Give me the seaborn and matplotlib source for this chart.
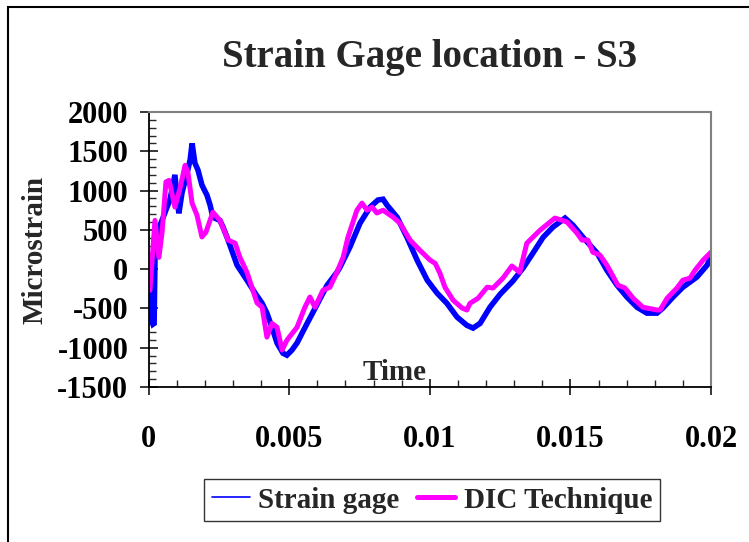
import matplotlib
matplotlib.use("Agg")
import matplotlib.pyplot as plt
import seaborn as sns
import pandas as pd
from matplotlib.patches import Rectangle
from matplotlib.ticker import MultipleLocator

# ---- data ----
gage_time = [0.0, 0.00012, 0.00016, 0.0002, 0.00023, 0.00034, 0.00048, 0.00066, 0.00076,
             0.00094, 0.00101, 0.00108, 0.00119, 0.00137, 0.00148, 0.00155, 0.00165, 0.00176,
             0.0019, 0.00208, 0.00219, 0.00229, 0.00254, 0.00265, 0.00283, 0.003, 0.00315,
             0.0035, 0.00379, 0.00404, 0.00421, 0.00439, 0.00457, 0.00478, 0.00492, 0.0051,
             0.00528, 0.00564, 0.00592, 0.00635, 0.0067, 0.00681, 0.00716, 0.00752, 0.00788,
             0.00816, 0.00834, 0.00848, 0.00884, 0.00919, 0.00955, 0.00991, 0.01026, 0.01061,
             0.01097, 0.01132, 0.01154, 0.01179, 0.01214, 0.0125, 0.01296, 0.01332, 0.01367,
             0.01403, 0.01438, 0.01481, 0.01509, 0.01545, 0.01595, 0.0163, 0.01666, 0.01701,
             0.01737, 0.01772, 0.01808, 0.01829, 0.01865, 0.019, 0.0195, 0.01986, 0.02]
gage_strain = [0, -650, -700, -690, 115, 500, 620, 790, 880,
               1200, 920, 710, 970, 1220, 1390, 1600, 1350, 1260,
               1070, 940, 815, 660, 620, 535, 370, 200, 50,
               -140, -305, -435, -560, -740, -940, -1070, -1095, -1030,
               -940, -690, -500, -205, -40, 25, 280, 585, 790,
               880, 890, 815, 660, 405, 115, -140, -305, -435,
               -610, -715, -750, -690, -485, -320, -150, 15, 205,
               405, 535, 650, 560, 405, 205, -15, -205, -355,
               -485, -560, -560, -495, -355, -230, -100, 50, 160]

dic_time = [0.00005, 0.00023, 0.00037, 0.00048, 0.00062, 0.00073, 0.00094, 0.00112, 0.0013,
            0.0014, 0.00155, 0.00172, 0.0019, 0.00204, 0.00229, 0.00254, 0.00283, 0.00308,
            0.00325, 0.0035, 0.00386, 0.00404, 0.00421, 0.00439, 0.00457, 0.00475, 0.00492,
            0.00528, 0.00556, 0.00574, 0.00592, 0.0062, 0.00645, 0.0067, 0.00692, 0.00709,
            0.00741, 0.00759, 0.00777, 0.00795, 0.00812, 0.00834, 0.0087, 0.00894, 0.0093,
            0.00965, 0.01001, 0.01019, 0.01036, 0.01054, 0.01083, 0.01115, 0.01132, 0.01143,
            0.01172, 0.01204, 0.01225, 0.0126, 0.01292, 0.0132, 0.01345, 0.01392, 0.01445,
            0.01488, 0.01523, 0.01541, 0.01562, 0.0158, 0.01605, 0.0163, 0.01669, 0.01694,
            0.01723, 0.01758, 0.01808, 0.01819, 0.01844, 0.01879, 0.019, 0.01925, 0.01943,
            0.01972, 0.02]
dic_strain = [-270, 620, 150, 460, 1110, 1130, 790, 1030, 1320,
              1235, 840, 690, 410, 470, 725, 620, 370, 330,
              150, -40, -430, -485, -865, -690, -740, -1030, -905,
              -740, -485, -355, -485, -270, -230, -40, 150, 405,
              750, 840, 750, 790, 715, 750, 660, 585, 370,
              240, 115, 75, -50, -230, -395, -495, -520, -435,
              -370, -230, -240, -115, 40, -40, 330, 495, 650,
              600, 460, 370, 370, 215, 180, 50, -205, -240,
              -370, -485, -520, -520, -370, -240, -140, -115, -15,
              115, 215]

series_names = ["Strain gage", "DIC Technique"]
title_text = "Strain Gage location - S3"
y_label = "Microstrain"
x_label = "Time"
x_ticks = [0, 0.005, 0.01, 0.015, 0.02]
x_ticklabels = ["0", "0.005", "0.01", "0.015", "0.02"]
y_ticks = [-1500, -1000, -500, 0, 500, 1000, 1500, 2000]
y_ticklabels = ["-1500", "-1000", "-500", "0", "500", "1000", "1500", "2000"]

df_gage = pd.DataFrame({"Time": gage_time, "Microstrain": gage_strain})
df_dic = pd.DataFrame({"Time": dic_time, "Microstrain": dic_strain})

sns.set_style("white")
plt.rcParams["font.family"] = ["Liberation Serif", "DejaVu Serif"]
plt.rcParams["font.weight"] = "bold"
plt.rcParams["axes.unicode_minus"] = False

W, H = 749, 542
fig = plt.figure(figsize=(W / 100, H / 100), dpi=100)
fig.patch.set_facecolor("white")

ax = fig.add_axes([148.5 / W, 1 - 387 / H, (711 - 148.5) / W, (387 - 112) / H])
ax.set_facecolor("white")

sns.lineplot(data=df_gage, x="Time", y="Microstrain", ax=ax, color="#0000FF",
             linewidth=4.0, sort=False, estimator=None, label=series_names[0],
             solid_joinstyle="miter")
sns.lineplot(data=df_dic, x="Time", y="Microstrain", ax=ax, color="#FF00FF",
             linewidth=3.6, sort=False, estimator=None, label=series_names[1],
             solid_joinstyle="round", solid_capstyle="round")

ax.set_xlim(0, 0.02)
ax.set_ylim(-1500, 2000)
ax.set_xticks(x_ticks)
ax.set_xticklabels(x_ticklabels)
ax.set_yticks(y_ticks)
ax.set_yticklabels(y_ticklabels)
ax.xaxis.set_minor_locator(MultipleLocator(0.001))
ax.yaxis.set_minor_locator(MultipleLocator(100))
ax.set_xlabel("")
ax.set_ylabel("")

for s in ["left", "bottom"]:
    ax.spines[s].set_color("black")
    ax.spines[s].set_linewidth(1.3)
for s in ["top", "right"]:
    ax.spines[s].set_color("#808080")
    ax.spines[s].set_linewidth(1.5)

ax.tick_params(axis="y", which="major", direction="inout", length=13, width=1.1,
               labelsize=22, pad=8, colors="black", left=True)
ax.tick_params(axis="y", which="minor", direction="in", length=5, width=1.0, left=True)
ax.tick_params(axis="x", which="major", direction="inout", length=11, width=1.1,
               labelsize=22, pad=22, colors="black", bottom=True)
ax.tick_params(axis="x", which="minor", direction="in", length=5, width=1.0, bottom=True)
for lab in ax.get_xticklabels() + ax.get_yticklabels():
    lab.set_fontweight("bold")

ax.legend_.remove()
handles, labels = ax.get_legend_handles_labels()
leg = fig.legend(handles, labels, loc="center", bbox_to_anchor=(432 / W, 1 - 500 / H),
                 ncol=2, frameon=True, fancybox=False, edgecolor="black",
                 prop={"size": 21, "weight": "bold"}, handlelength=1.3,
                 handletextpad=0.3, columnspacing=0.6, borderpad=0.25)
leg.get_frame().set_linewidth(1.0)
leg_lines = leg.get_lines()
leg_lines[0].set_linewidth(1.2)
leg_lines[1].set_linewidth(3.6)

fig.text(430 / W, 1 - 58 / H, title_text, ha="center", va="center",
         fontsize=28, fontweight="bold")
fig.text(35 / W, 1 - 250 / H, y_label, ha="center", va="center", rotation=90,
         fontsize=21, fontweight="bold")
fig.text(395 / W, 1 - 372 / H, x_label, ha="center", va="center",
         fontsize=21, fontweight="bold")

fig.patches.append(Rectangle((8 / W, -0.1), 1.2, 1 - 7 / H + 0.1, transform=fig.transFigure,
                             fill=False, edgecolor="black", linewidth=1.5))

fig.savefig("out.png", dpi=100)
